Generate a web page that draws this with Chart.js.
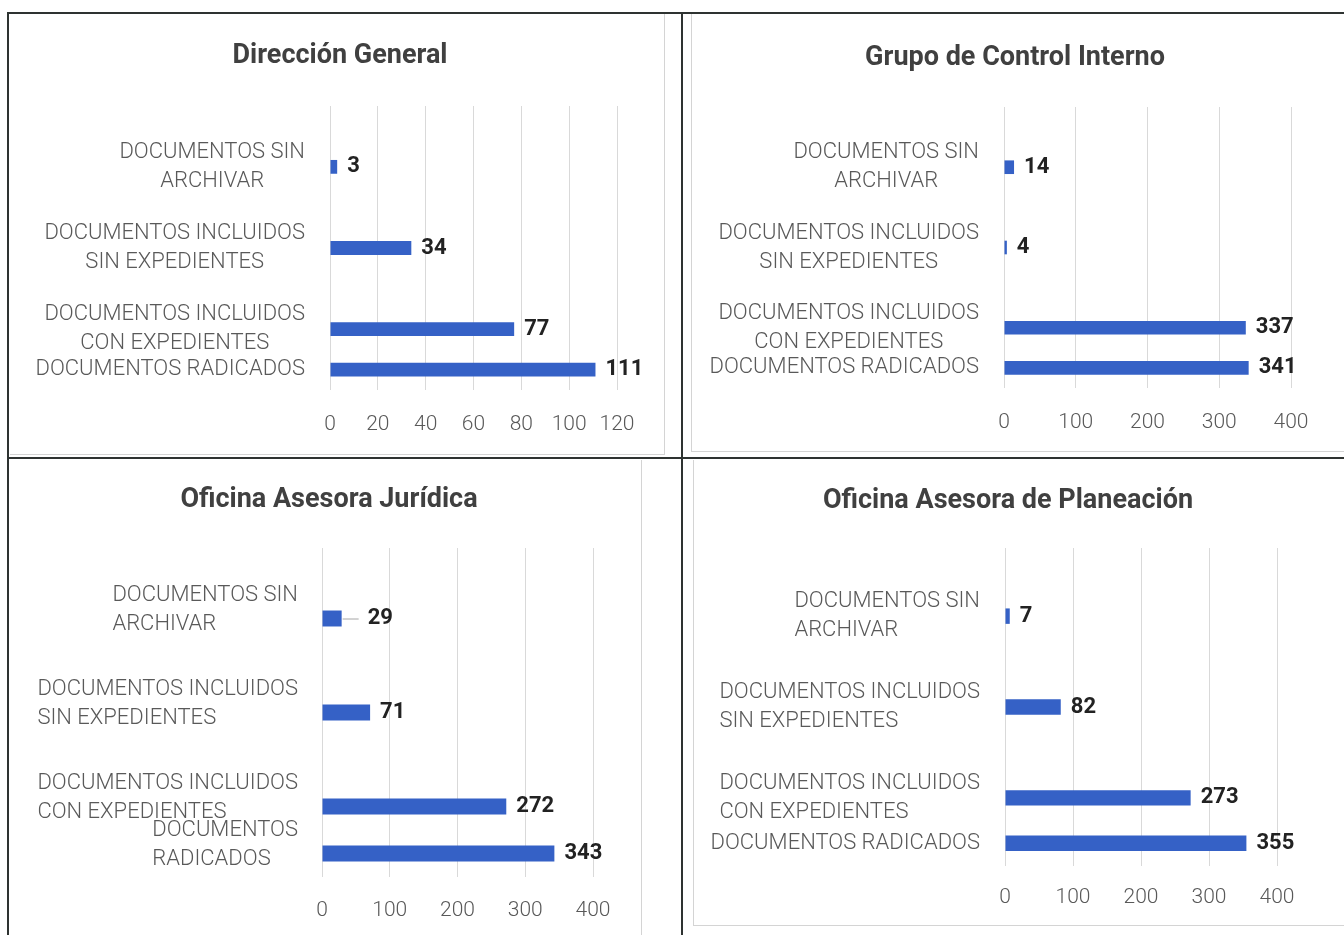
<!DOCTYPE html>
<html lang="es">
<head>
<meta charset="UTF-8">
<title>Documentos por dependencia</title>
<script src="https://cdn.jsdelivr.net/npm/chart.js"></script>
<style>
    * { margin: 0; padding: 0; box-sizing: border-box; }
    body {
        width: 1344px;
        height: 935px;
        background: #fff;
        position: relative;
        overflow: hidden;
        font-family: Roboto, sans-serif;
    }
    /* lineas negras del cuadro */
    .linea { position: absolute; background: #2e3331; }
    /* marco gris de cada grafico */
    .panel { position: absolute; border: 0 solid #d4d4d4; }
    .panel canvas { display: block; }
    #p1 { left: 10px; top: 14px; width: 655px; height: 441px; border-right-width: 1px; border-bottom-width: 1px; }
    #p2 { left: 691px; top: 14px; width: 653px; height: 438px; border-left-width: 1px; border-bottom-width: 1px; }
    #p3 { left: 10px; top: 460px; width: 632px; height: 479px; border-right-width: 1px; }
    #p4 { left: 693px; top: 460px; width: 651px; height: 466px; border-left-width: 1px; border-bottom-width: 1px; }
</style>
</head>
<body>
    <div class="linea" style="left:7px; top:12px; width:1337px; height:2px;"></div>
    <div class="linea" style="left:7px; top:12px; width:2px; height:923px;"></div>
    <div class="linea" style="left:681px; top:12px; width:2px; height:923px;"></div>
    <div class="linea" style="left:7px; top:457px; width:1337px; height:2px;"></div>

    <div class="panel" id="p1"><canvas id="g1" width="654" height="440"></canvas></div>
    <div class="panel" id="p2"><canvas id="g2" width="652" height="437"></canvas></div>
    <div class="panel" id="p3"><canvas id="g3" width="631" height="479"></canvas></div>
    <div class="panel" id="p4"><canvas id="g4" width="650" height="465"></canvas></div>

<script>
    // Categorias (de arriba hacia abajo); las vacias son los huecos del original
    const categorias = [
        [''],
        ['DOCUMENTOS SIN', 'ARCHIVAR'],
        [''],
        ['DOCUMENTOS INCLUIDOS', 'SIN EXPEDIENTES'],
        [''],
        ['DOCUMENTOS INCLUIDOS', 'CON EXPEDIENTES'],
        ['DOCUMENTOS RADICADOS']
    ];
    const categoriasJuridica = [
        [''],
        ['DOCUMENTOS SIN', 'ARCHIVAR'],
        [''],
        ['DOCUMENTOS INCLUIDOS', 'SIN EXPEDIENTES'],
        [''],
        ['DOCUMENTOS INCLUIDOS', 'CON EXPEDIENTES'],
        ['DOCUMENTOS', 'RADICADOS']
    ];

    // Valores por dependencia
    const direccionGeneral = [null, 3, null, 34, null, 77, 111];
    const controlInterno = [null, 14, null, 4, null, 337, 341];
    const asesoraJuridica = [null, 29, null, 71, null, 272, 343];
    const asesoraPlaneacion = [null, 7, null, 82, null, 273, 355];

    // Marcas del eje horizontal
    const marcasDireccion = [0, 20, 40, 60, 80, 100, 120];
    const marcas400 = [0, 100, 200, 300, 400];

    const AZUL = '#3561c6';
    const GRIS = '#595959';

    // Etiquetas del eje vertical (bloque pegado al eje)
    const etiquetasY = {
        id: 'etiquetasY',
        afterDraw(chart, args, opts) {
            const y = chart.scales.y;
            const ctx = chart.ctx;
            ctx.save();
            ctx.font = '300 22px Roboto';
            ctx.fillStyle = GRIS;
            ctx.textBaseline = 'middle';
            chart.data.labels.forEach((lab, i) => {
                const lineas = [].concat(lab);
                const w = Math.max(...lineas.map(l => ctx.measureText(l).width));
                const derecha = y.right - opts.gap;
                const cy = y.getPixelForValue(i) + opts.shift;
                lineas.forEach((l, k) => {
                    const ly = cy + (k - (lineas.length - 1) / 2) * 29;
                    if (opts.align === 'left') {
                        ctx.textAlign = 'left';
                        ctx.fillText(l, derecha - w, ly);
                    } else {
                        ctx.textAlign = 'center';
                        ctx.fillText(l, derecha - w / 2, ly);
                    }
                });
            });
            ctx.restore();
        }
    };

    // Valores al final de cada barra (con linea guia opcional)
    const etiquetasValor = {
        id: 'etiquetasValor',
        afterDatasetsDraw(chart, args, opts) {
            const ctx = chart.ctx;
            const meta = chart.getDatasetMeta(0);
            ctx.save();
            ctx.font = 'bold 22px Roboto';
            ctx.textAlign = 'left';
            ctx.textBaseline = 'middle';
            meta.data.forEach((bar, i) => {
                const v = chart.data.datasets[0].data[i];
                if (v == null) return;
                let gap = 10;
                if (opts.guia === i) {
                    ctx.strokeStyle = '#a6a6a6';
                    ctx.lineWidth = 1;
                    ctx.beginPath();
                    ctx.moveTo(bar.x + 1, bar.y + 0.5);
                    ctx.lineTo(bar.x + 17, bar.y + 0.5);
                    ctx.stroke();
                    gap = 26;
                }
                ctx.fillStyle = '#222';
                ctx.fillText(v, bar.x + gap, bar.y);
            });
            ctx.restore();
        }
    };

    function crearGrafico(id, titulo, etiquetas, valores, marcas, d) {
        new Chart(document.getElementById(id), {
            type: 'bar',
            data: {
                labels: etiquetas,
                datasets: [{
                    data: valores,
                    backgroundColor: AZUL,
                    barPercentage: 0.34,
                    categoryPercentage: 1
                }]
            },
            options: {
                indexAxis: 'y',
                responsive: false,
                animation: false,
                layout: { padding: { left: d.left, right: d.right, top: 0, bottom: d.bottom } },
                plugins: {
                    legend: { display: false },
                    tooltip: { enabled: false },
                    title: {
                        display: true,
                        text: titulo,
                        color: '#404040',
                        font: { family: 'Roboto', size: 27, weight: 'bold' },
                        padding: { top: d.titleTop, bottom: d.titleBottom }
                    },
                    etiquetasY: { gap: d.gap, align: d.align, shift: d.shift },
                    etiquetasValor: { guia: d.guia }
                },
                scales: {
                    x: {
                        min: marcas[0],
                        max: marcas[marcas.length - 1],
                        ticks: {
                            stepSize: marcas[1] - marcas[0],
                            color: GRIS,
                            padding: d.tickPad,
                            font: { family: 'Roboto', size: 21, weight: '300' }
                        },
                        grid: { color: '#d9d9d9', drawTicks: false },
                        border: { display: false },
                        afterFit: s => { s.height = d.tickPad + 25.2; }
                    },
                    y: {
                        ticks: { display: false },
                        grid: { display: false },
                        border: { display: false },
                        afterFit: s => { s.width = d.axisW; }
                    }
                }
            },
            plugins: [etiquetasY, etiquetasValor]
        });
    }

    crearGrafico('g1', 'Dirección General', categorias, direccionGeneral, marcasDireccion,
        { left: 53, right: 47, bottom: 16.4, titleTop: 25.8, titleBottom: 33.8, tickPad: 22.4, axisW: 267, gap: 25, align: 'center', shift: 0, guia: -1 });
    crearGrafico('g2', 'Grupo de Control Interno', categorias, controlInterno, marcas400,
        { left: 47, right: 53, bottom: 15.8, titleTop: 27.8, titleBottom: 32.8, tickPad: 22, axisW: 265, gap: 25, align: 'center', shift: 0, guia: -1 });
    crearGrafico('g3', 'Oficina Asesora Jurídica', categoriasJuridica, asesoraJuridica, marcas400,
        { left: 55, right: 48, bottom: 15.4, titleTop: 23.8, titleBottom: 31.8, tickPad: 21.4, axisW: 257, gap: 24, align: 'left', shift: -9, guia: 1 });
    crearGrafico('g4', 'Oficina Asesora de Planeación', categorias, asesoraPlaneacion, marcas400,
        { left: 45, right: 67, bottom: 14.4, titleTop: 24.8, titleBottom: 30.8, tickPad: 19.4, axisW: 266, gap: 25, align: 'left', shift: 0, guia: -1 });
</script>
</body>
</html>
